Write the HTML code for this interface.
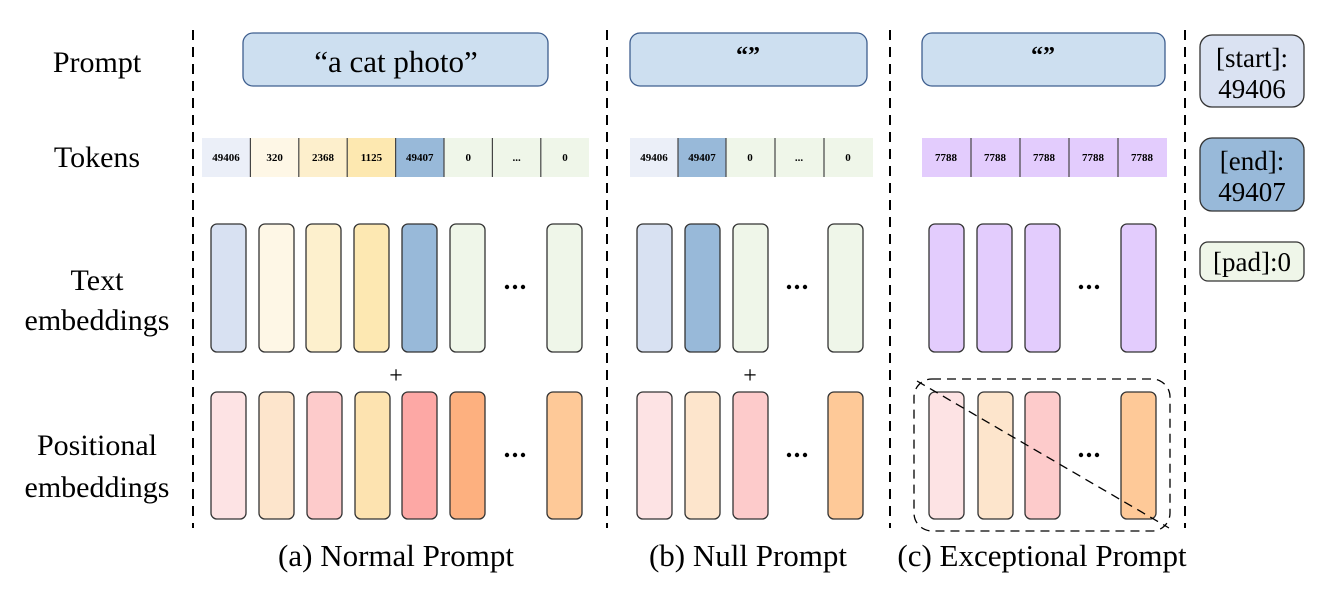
<!DOCTYPE html>
<html><head><meta charset="utf-8"><style>
body{margin:0;background:#fff}
svg, svg text{font-family:"Liberation Serif","Times New Roman",serif}
</style></head><body>
<svg width="1324" height="586" viewBox="0 0 1324 586" xmlns="http://www.w3.org/2000/svg" font-family="Liberation Serif, serif">
<g stroke="#000" stroke-width="2" stroke-dasharray="10,7">
<line x1="193" y1="30" x2="193" y2="528"/>
<line x1="607" y1="30" x2="607" y2="528"/>
<line x1="890" y1="30" x2="890" y2="528"/>
<line x1="1185" y1="30" x2="1185" y2="528"/>
</g>
<g font-size="30" text-anchor="middle" fill="#000" font-family="Liberation Serif, serif">
<text x="97" y="72">Prompt</text>
<text x="97" y="167">Tokens</text>
<text x="97" y="290">Text</text>
<text x="97" y="330">embeddings</text>
<text x="97" y="455">Positional</text>
<text x="97" y="497">embeddings</text>
</g>
<g font-size="31" text-anchor="middle" fill="#000" font-family="Liberation Serif, serif">
<text x="396" y="566">(a) Normal Prompt</text>
<text x="748" y="566">(b) Null Prompt</text>
<text x="1042" y="566">(c) Exceptional Prompt</text>
</g>
<g fill="#cddff0" stroke="#3f5f8f" stroke-width="1.3">
<rect x="243" y="33" width="305" height="53" rx="10"/>
<rect x="630" y="33" width="237" height="53" rx="10"/>
<rect x="922" y="33" width="243" height="53" rx="10"/>
</g>
<g font-family="Liberation Serif, serif" text-anchor="middle">
<text x="396" y="72" font-size="31">“a cat photo”</text>
<text x="748" y="63" font-size="24" font-weight="bold">“”</text>
<text x="1043" y="63" font-size="24" font-weight="bold">“”</text>
</g>
<!-- tokens a -->
<g>
<rect x="202" y="138" width="48.4" height="39" fill="#ebeff8"/>
<rect x="250.4" y="138" width="48.4" height="39" fill="#fef7e6"/>
<rect x="298.8" y="138" width="48.4" height="39" fill="#fdefcc"/>
<rect x="347.2" y="138" width="48.4" height="39" fill="#fde8b0"/>
<rect x="395.6" y="138" width="48.4" height="39" fill="#98b9d9"/>
<rect x="444" y="138" width="145" height="39" fill="#eff6e9"/>
<g stroke="#444" stroke-width="1.2">
<line x1="250.4" y1="138" x2="250.4" y2="177"/><line x1="298.8" y1="138" x2="298.8" y2="177"/>
<line x1="347.2" y1="138" x2="347.2" y2="177"/><line x1="395.6" y1="138" x2="395.6" y2="177"/>
<line x1="444" y1="138" x2="444" y2="177"/><line x1="492.4" y1="138" x2="492.4" y2="177"/>
<line x1="540.8" y1="138" x2="540.8" y2="177"/>
</g>
<g font-size="11" font-weight="bold" text-anchor="middle" font-family="Liberation Serif, serif">
<text x="226" y="161">49406</text><text x="274.6" y="161">320</text><text x="323" y="161">2368</text>
<text x="371.4" y="161">1125</text><text x="419.8" y="161">49407</text><text x="468.2" y="161">0</text>
<text x="516.6" y="161">...</text><text x="565" y="161">0</text>
</g>
</g>
<!-- tokens b -->
<g>
<rect x="630" y="138" width="48" height="39" fill="#ebeff8"/>
<rect x="678" y="138" width="48" height="39" fill="#98b9d9"/>
<rect x="726" y="138" width="147" height="39" fill="#eff6e9"/>
<g stroke="#444" stroke-width="1.2">
<line x1="678" y1="138" x2="678" y2="177"/><line x1="726" y1="138" x2="726" y2="177"/>
<line x1="775" y1="138" x2="775" y2="177"/><line x1="824" y1="138" x2="824" y2="177"/>
</g>
<g font-size="11" font-weight="bold" text-anchor="middle" font-family="Liberation Serif, serif">
<text x="654" y="161">49406</text><text x="702" y="161">49407</text><text x="750" y="161">0</text>
<text x="799" y="161">...</text><text x="848" y="161">0</text>
</g>
</g>
<!-- tokens c -->
<g>
<rect x="922" y="138" width="245" height="39" fill="#e3ccfd"/>
<g stroke="#444" stroke-width="1.2">
<line x1="971" y1="138" x2="971" y2="177"/><line x1="1020" y1="138" x2="1020" y2="177"/>
<line x1="1069" y1="138" x2="1069" y2="177"/><line x1="1118" y1="138" x2="1118" y2="177"/>
</g>
<g font-size="11" font-weight="bold" text-anchor="middle" font-family="Liberation Serif, serif">
<text x="946" y="161">7788</text><text x="995" y="161">7788</text><text x="1044" y="161">7788</text>
<text x="1093" y="161">7788</text><text x="1142" y="161">7788</text>
</g>
</g>
<!-- embeddings -->
<g stroke="#333" stroke-width="1.3">
<rect x="211" y="224" width="35" height="128" rx="6" fill="#d8e1f2"/>
<rect x="259" y="224" width="35" height="128" rx="6" fill="#fef7e6"/>
<rect x="306" y="224" width="35" height="128" rx="6" fill="#fdf0cd"/>
<rect x="354" y="224" width="35" height="128" rx="6" fill="#fde8b2"/>
<rect x="402" y="224" width="35" height="128" rx="6" fill="#98b9d9"/>
<rect x="450" y="224" width="35" height="128" rx="6" fill="#eff6e9"/>
<rect x="547" y="224" width="35" height="128" rx="6" fill="#eff6e9"/>
<rect x="211" y="392" width="35" height="127" rx="6" fill="#fde3e4"/>
<rect x="259" y="392" width="35" height="127" rx="6" fill="#fde5cc"/>
<rect x="307" y="392" width="35" height="127" rx="6" fill="#fdcbcb"/>
<rect x="355" y="392" width="35" height="127" rx="6" fill="#fde3b0"/>
<rect x="402" y="392" width="35" height="127" rx="6" fill="#fda8a5"/>
<rect x="450" y="392" width="35" height="127" rx="6" fill="#fdb07f"/>
<rect x="547" y="392" width="35" height="127" rx="6" fill="#fec998"/>

<rect x="637" y="224" width="35" height="128" rx="6" fill="#d8e1f2"/>
<rect x="685" y="224" width="35" height="128" rx="6" fill="#98b9d9"/>
<rect x="733" y="224" width="35" height="128" rx="6" fill="#eff6e9"/>
<rect x="828" y="224" width="35" height="128" rx="6" fill="#eff6e9"/>
<rect x="637" y="392" width="35" height="127" rx="6" fill="#fde3e4"/>
<rect x="685" y="392" width="35" height="127" rx="6" fill="#fde5cc"/>
<rect x="733" y="392" width="35" height="127" rx="6" fill="#fdcbcb"/>
<rect x="828" y="392" width="35" height="127" rx="6" fill="#fec998"/>

<rect x="929" y="224" width="35" height="128" rx="6" fill="#e3ccfd"/>
<rect x="977" y="224" width="35" height="128" rx="6" fill="#e3ccfd"/>
<rect x="1025" y="224" width="35" height="128" rx="6" fill="#e3ccfd"/>
<rect x="1121" y="224" width="35" height="128" rx="6" fill="#e3ccfd"/>
<rect x="929" y="392" width="35" height="127" rx="6" fill="#fde3e4"/>
<rect x="978" y="392" width="35" height="127" rx="6" fill="#fde5cc"/>
<rect x="1025" y="392" width="35" height="127" rx="6" fill="#fdcbcb"/>
<rect x="1121" y="392" width="35" height="127" rx="6" fill="#fec998"/>
</g>
<g fill="#000">
<circle cx="507" cy="287" r="2.2"/><circle cx="515" cy="287" r="2.2"/><circle cx="523" cy="287" r="2.2"/>
<circle cx="507" cy="455" r="2.2"/><circle cx="515" cy="455" r="2.2"/><circle cx="523" cy="455" r="2.2"/>
<circle cx="789" cy="287" r="2.2"/><circle cx="797" cy="287" r="2.2"/><circle cx="805" cy="287" r="2.2"/>
<circle cx="789" cy="455" r="2.2"/><circle cx="797" cy="455" r="2.2"/><circle cx="805" cy="455" r="2.2"/>
<circle cx="1081" cy="287" r="2.2"/><circle cx="1089" cy="287" r="2.2"/><circle cx="1097" cy="287" r="2.2"/>
<circle cx="1081" cy="455" r="2.2"/><circle cx="1089" cy="455" r="2.2"/><circle cx="1097" cy="455" r="2.2"/>
</g>
<g font-size="24" text-anchor="middle" font-family="Liberation Serif, serif">
<text x="396" y="383">+</text><text x="750" y="383">+</text>
</g>
<g fill="none" stroke="#000" stroke-width="1.3" stroke-dasharray="9,6">
<rect x="914" y="379" width="256" height="152" rx="18"/>
<line x1="917" y1="381" x2="1169" y2="528"/>
</g>
<!-- legend -->
<g stroke="#333" stroke-width="1.3">
<rect x="1200" y="35" width="104" height="72" rx="12" fill="#dae2f2"/>
<rect x="1200" y="138" width="104" height="73" rx="12" fill="#98b9d9"/>
<rect x="1200" y="242" width="104" height="39" rx="8" fill="#eff6e9"/>
</g>
<g font-size="27" text-anchor="middle" font-family="Liberation Serif, serif">
<text x="1252" y="67">[start]:</text><text x="1252" y="98">49406</text>
<text x="1252" y="170">[end]:</text><text x="1252" y="201">49407</text>
<text x="1252" y="271">[pad]:0</text>
</g>
</svg>
</body></html>
